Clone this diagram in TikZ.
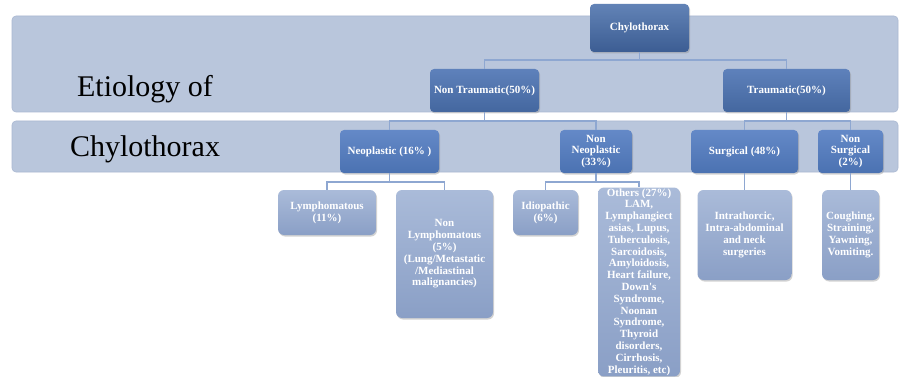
\documentclass[tikz,border=0pt]{standalone}
\usepackage{fontspec}
\setmainfont{Liberation Serif}
\usetikzlibrary{shadows}
\definecolor{bandc}{HTML}{B9C6DC}
\definecolor{bandd}{HTML}{AAB8D2}
\definecolor{topA}{HTML}{6283B6}
\definecolor{botA}{HTML}{3C5D93}
\definecolor{topB}{HTML}{5E81BB}
\definecolor{botB}{HTML}{44679F}
\definecolor{topC}{HTML}{6489C7}
\definecolor{botC}{HTML}{4B72B2}
\definecolor{topD}{HTML}{AABBD9}
\definecolor{botD}{HTML}{8A9FC6}
\definecolor{linec}{HTML}{8EA7D1}
\tikzset{
  box/.style={draw=none, rounded corners=4pt, text=white, align=center, inner sep=1pt,
    font=\bfseries\fontsize{11}{11.8}\selectfont,
    drop shadow={opacity=0.35, shadow xshift=1pt, shadow yshift=-1.5pt}},
  lvA/.style={box, top color=topA, bottom color=botA},
  lvB/.style={box, top color=topB, bottom color=botB},
  lvC/.style={box, top color=topC, bottom color=botC},
  lvD/.style={box, rounded corners=6pt, top color=topD, bottom color=botD},
  band/.style={fill=bandc, draw=bandd, line width=0.6pt, rounded corners=4pt},
  conn/.style={draw=linec, line width=1.5pt},
  title/.style={font=\fontsize{30}{34}\selectfont, text=black, anchor=base, inner sep=0pt}
}
\begin{document}
\begin{tikzpicture}[x=1pt,y=-1pt]
\useasboundingbox (0,0) rectangle (899,377);
\fill[white] (0,0) rectangle (899,377);
% bands
\path[band] (12,16) rectangle (898,112);
\path[band] (12,121) rectangle (898,172);
\node[title] (t1) at (145,97) {Etiology of};
\node[title] (t2) at (145,157) {Chylothorax};
% coordinates for bus lines
\coordinate (y1) at (0,60);
\coordinate (y2) at (0,121);
\coordinate (y3) at (0,182);
% nodes
\node[lvA, minimum width=99pt, minimum height=48pt] (chy) at (639.5,28) {Chylothorax};
\node[lvB, minimum width=109pt, minimum height=43pt] (nt) at (484.5,90.5) {Non Traumatic(50\%)};
\node[lvB, minimum width=127pt, minimum height=43pt] (tr) at (786.5,90.5) {Traumatic(50\%)};
\node[lvC, minimum width=99pt, minimum height=43pt] (neo) at (389.5,151.5) {Neoplastic (16\% )};
\node[lvC, minimum width=72pt, minimum height=43pt] (nneo) at (596,151.5) {Non\\Neoplastic\\(33\%)};
\node[lvC, minimum width=107pt, minimum height=43pt] (surg) at (744.5,151.5) {Surgical (48\%)};
\node[lvC, minimum width=65pt, minimum height=43pt] (nsurg) at (850.5,151.5) {Non\\Surgical\\(2\%)};
\node[lvD, minimum width=98pt, minimum height=45pt] (lym) at (327,212.5) {Lymphomatous\\(11\%)};
\node[lvD, minimum width=97pt, minimum height=128pt] (nlym) at (444.5,254) {Non\\Lymphomatous\\(5\%)\\(Lung/Metastatic\\/Mediastinal\\malignancies)};
\node[lvD, minimum width=65pt, minimum height=45pt] (idio) at (545.5,212.5) {Idiopathic\\(6\%)};
\node[lvD, minimum width=82pt, minimum height=184pt] (oth) at (639,282) {Others (27\%)\\LAM,\\Lymphangiect\\asias, Lupus,\\Tuberculosis,\\Sarcoidosis,\\Amyloidosis,\\Heart failure,\\Down\textquotesingle s\\Syndrome,\\Noonan\\Syndrome,\\Thyroid\\disorders,\\Cirrhosis,\\Pleuritis, etc)};
\node[lvD, minimum width=94pt, minimum height=90pt] (intra) at (744.5,235) {Intrathorcic,\\Intra-abdominal\\and neck\\surgeries};
\node[lvD, minimum width=57pt, minimum height=90pt] (cough) at (850.5,235) {Coughing,\\Straining,\\Yawning,\\Vomiting.};
% connectors
\draw[conn] (chy.south) -- (chy.south |- y1) -| (nt.north);
\draw[conn] (chy.south |- y1) -| (tr.north);
\draw[conn] (nt.south) -- (nt.south |- y2) -| (neo.north);
\draw[conn] (nt.south |- y2) -| (nneo.north);
\draw[conn] (tr.south) -- (tr.south |- y2) -| (surg.north);
\draw[conn] (tr.south |- y2) -| (nsurg.north);
\draw[conn] (neo.south) -- (neo.south |- y3) -| (lym.north);
\draw[conn] (neo.south |- y3) -| (nlym.north);
\draw[conn] (nneo.south) -- (nneo.south |- y3) -| (idio.north);
\draw[conn] (nneo.south |- y3) -| (oth.north);
\draw[conn] (surg.south) -- (intra.north);
\draw[conn] (nsurg.south) -- (cough.north);
\end{tikzpicture}
\end{document}
